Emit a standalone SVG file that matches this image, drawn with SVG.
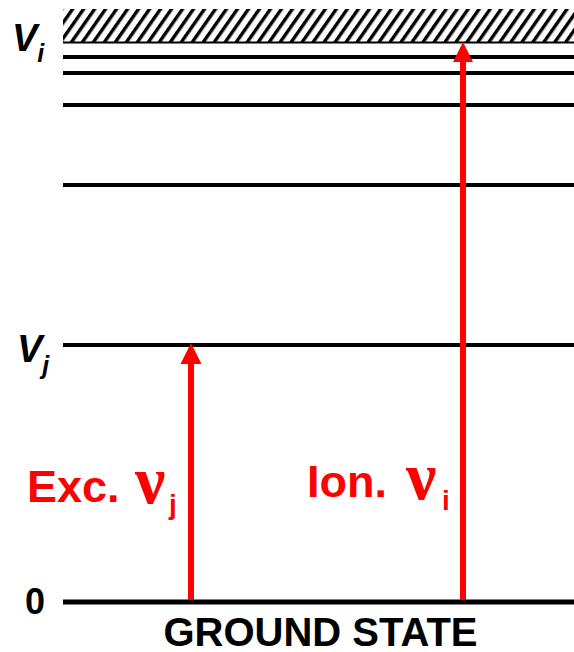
<svg xmlns="http://www.w3.org/2000/svg" width="574" height="652" viewBox="0 0 574 652">
<defs>
<style>
.lvl{stroke:#000;stroke-width:4;fill:none}
.lab{font-family:"Liberation Sans",Arial,sans-serif;font-weight:bold;fill:#000}
.red{font-family:"Liberation Sans",Arial,sans-serif;font-weight:bold;fill:#ff0000}
.nu{font-family:"Liberation Serif","Times New Roman",serif;font-weight:bold;fill:#ff0000}
.shaft{stroke:#ff0000;stroke-width:6}
</style>
<pattern id="hatch" patternUnits="userSpaceOnUse" width="9" height="9" patternTransform="rotate(35)">
<rect x="0" y="0" width="9" height="9" fill="#fff"/>
<rect x="0" y="-1" width="3.4" height="11" fill="#000"/>
</pattern>
</defs>
<rect width="574" height="652" fill="#fff"/>
<g id="continuum">
<rect x="63" y="9" width="511" height="33" fill="url(#hatch)"/>
<line x1="63" y1="42.5" x2="574" y2="42.5" stroke="#000" stroke-width="2"/>
</g>
<g id="levels">
<line class="lvl" x1="63" y1="57" x2="574" y2="57"/>
<line class="lvl" x1="63" y1="73" x2="574" y2="73"/>
<line class="lvl" x1="63" y1="105" x2="574" y2="105"/>
<line class="lvl" x1="63" y1="185" x2="574" y2="185"/>
</g>
<g id="level-vj">
<line class="lvl" x1="63" y1="345" x2="574" y2="345"/>
<text class="lab" x="17" y="362" font-size="38" font-style="italic">V<tspan font-size="25" dy="12">j</tspan></text>
</g>
<g id="level-vi">
<text class="lab" x="12" y="51" font-size="38" font-style="italic">V<tspan font-size="25" dy="11">i</tspan></text>
</g>
<g id="ground">
<line x1="63" y1="602" x2="574" y2="602" stroke="#000" stroke-width="5"/>
<text class="lab" x="25" y="614" font-size="36">0</text>
<text class="lab" x="320.5" y="646" font-size="40" text-anchor="middle">GROUND STATE</text>
</g>
<g id="connectors">
<line class="shaft" x1="191" y1="600" x2="191" y2="360"/>
<polygon points="191,343 201.5,364 180.5,364" fill="#ff0000"/>
<line class="shaft" x1="463" y1="600" x2="463" y2="58"/>
<polygon points="463,42 473,62 453,62" fill="#ff0000"/>
</g>
<g id="label-exc">
<text class="red" x="27" y="502" font-size="45">Exc.</text>
<text class="nu" x="135" y="503" font-size="68">ν</text>
<text class="red" x="169" y="514" font-size="28">j</text>
</g>
<g id="label-ion">
<text class="red" x="307" y="497" font-size="45">Ion.</text>
<text class="nu" x="406" y="499" font-size="68">ν</text>
<text class="red" x="442" y="510" font-size="28">i</text>
</g>
</svg>
